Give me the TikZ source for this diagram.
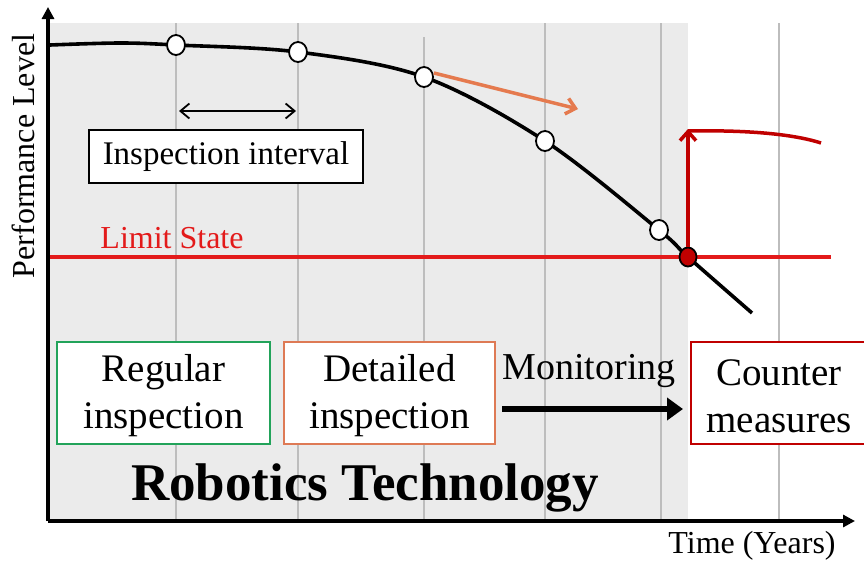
\documentclass[tikz,border=0pt]{standalone}
\usepackage{fontspec}
\setmainfont{Liberation Serif}
\usetikzlibrary{arrows.meta,shapes.geometric}
\definecolor{panel}{HTML}{EBEBEB}
\definecolor{gridc}{HTML}{BDBDBD}
\definecolor{limitred}{HTML}{E31A1A}
\definecolor{darkred}{HTML}{C00000}
\definecolor{orangeln}{HTML}{E57A4E}
\definecolor{boxgreen}{HTML}{22A35A}
\definecolor{boxorange}{HTML}{DE7A55}
\tikzset{
  fs/.style 2 args={font=\fontsize{#1}{#2}\selectfont},
  gridline/.style={draw=gridc, line width=1.6pt},
  insp/.style={draw=black, line width=1.8pt, fill=white, ellipse, minimum width=18pt, minimum height=20pt, inner sep=0pt},
  stagebox/.style={draw=#1, line width=2.4pt, fill=white, minimum height=102pt},
  stagetext/.style={align=center, inner sep=0pt, fs={39}{47}},
  barb/.style={-{Straight Barb[length=9pt, width=16pt, line width=#1]}},
}
\begin{document}
\begin{tikzpicture}[x=1pt, y=-1pt]
\useasboundingbox (0,0) rectangle (864,568);
% shaded panel
\fill[panel] (50,23) rectangle (688,520);
% vertical time grid
\foreach \gx/\gy in {176/23, 298/23, 424/37, 545/23, 661/23, 779/23}
  \draw[gridline] (\gx,\gy) -- (\gx,520);
% axes
\coordinate (origin) at (48,521);
\coordinate (ytip) at (48,7);
\coordinate (xtip) at (855,521);
\draw[line width=3.6pt, -{Triangle[length=12pt, width=12pt]}] (origin) -- (ytip);
\draw[line width=3.6pt, -{Triangle[length=12pt, width=12pt]}] (origin) -- (xtip);
\node[fs={32}{38}, rotate=90] (ylab) at (23,156) {Performance Level};
\node[fs={32}{38}] (xlab) at (752,546) {Time (Years)};
% limit state
\coordinate (ls0) at (50,257);
\coordinate (ls1) at (831,257);
\draw[limitred, line width=3.5pt] (ls0) -- (ls1);
\node[fs={32}{38}, text=limitred] (lstext) at (172,238) {Limit State};
% deterioration curve
\draw[line width=3.6pt] plot[smooth, tension=0.55] coordinates
  {(50,45) (120,43) (176,45) (298,52) (424,77) (545,141) (659,230) (688,257) (752,313)};
% inspection points
\node[insp] (p1) at (176,45) {};
\node[insp] (p2) at (298,52) {};
\node[insp] (p3) at (424,77) {};
\node[insp] (p4) at (545,141) {};
\node[insp] (p5) at (659,230) {};
\node[draw=black, line width=1.8pt, fill=darkred, ellipse, minimum width=17pt, minimum height=19pt, inner sep=0pt] (fail) at (688,257) {};
% trend of performance loss
\coordinate (trend) at (578,109);
\draw[orangeln, line width=3.5pt, barb=3.5pt] (p3.east) ++(0,-4) -- (trend);
% inspection interval
\coordinate (iv0) at (179,111);
\coordinate (iv1) at (296,111);
\draw[line width=1.8pt, {Straight Barb[length=9pt, width=15pt, line width=1.8pt]}-{Straight Barb[length=9pt, width=15pt, line width=1.8pt]}] (iv0) -- (iv1);
\node[draw=black, line width=2.4pt, fill=white, fs={33}{40}, minimum width=274pt, minimum height=53pt, inner sep=0pt] (ivbox) at (226,156.5) {Inspection interval};
% recovery by counter measures
\coordinate (rec) at (688,129);
\coordinate (rec2) at (821,143);
\draw[darkred, line width=3.5pt, barb=3.5pt] (fail.north) -- (rec);
\draw[darkred, line width=3.5pt] (688,131) .. controls (740,130) and (790,133) .. (rec2);
% stages
\node[stagebox=boxgreen, minimum width=213pt] (regular) at (163.5,393) {};
\node[stagetext] (regulartext) at (163.5,396) {Regular\\inspection};
\node[stagebox=boxorange, minimum width=211pt] (detailed) at (389.5,393) {};
\node[stagetext] (detailedtext) at (389.5,396) {Detailed\\inspection};
\node[stagebox=darkred, minimum width=178pt] (counter) at (780,393) {};
\node[stagetext] (countertext) at (779,396) {Counter\\measures};
\node[fs={38}{46}] (moni) at (589,371) {Monitoring};
\coordinate (m0) at (502,409);
\coordinate (m1) at (683,409);
\draw[line width=6.5pt, -{Triangle[length=16pt, width=22pt]}] (m0) -- (m1);
\node[font=\fontsize{53}{62}\selectfont\bfseries] (robot) at (365,488) {Robotics Technology};
\end{tikzpicture}
\end{document}
